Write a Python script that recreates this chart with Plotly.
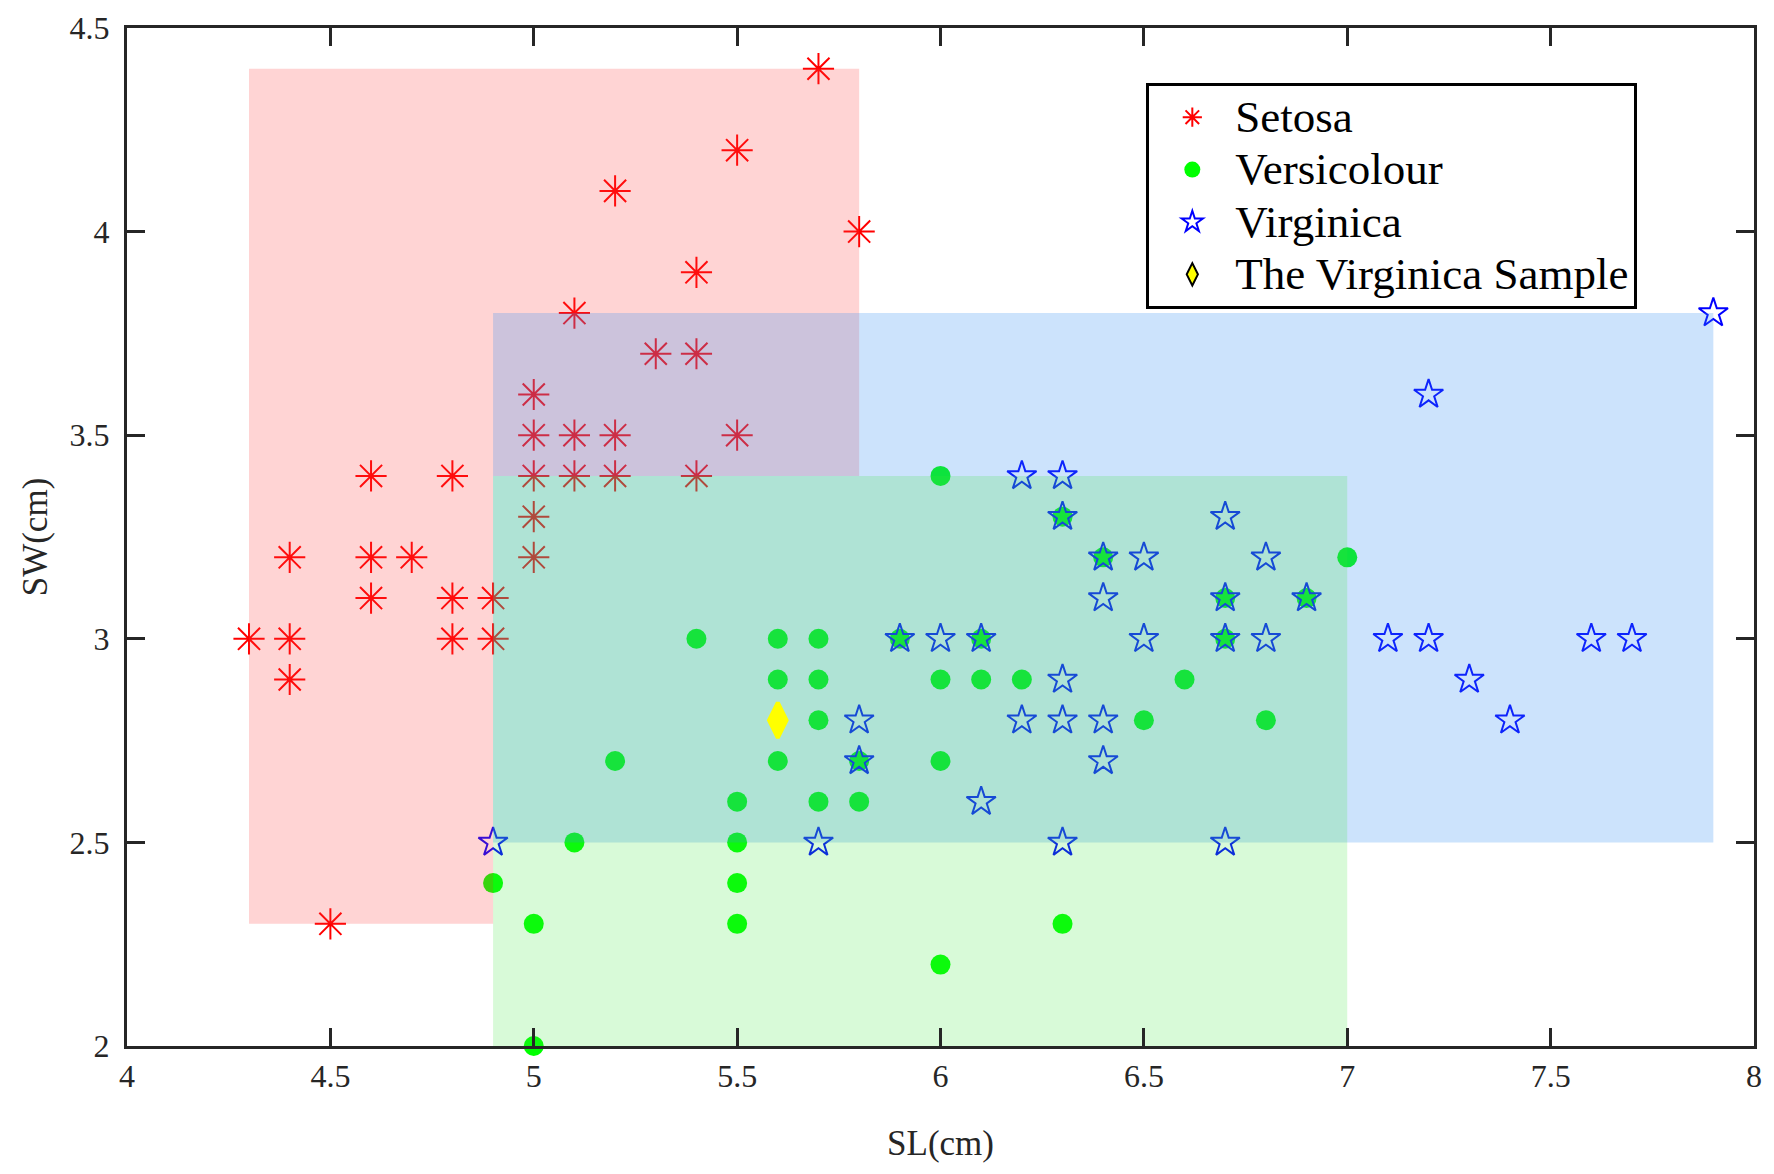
import plotly.graph_objs as go

# iris sepal length / sepal width
setosa_sl = [5.7, 5.5, 5.2, 5.8, 5.4, 5.1, 5.3, 5.4, 5.0, 5.0, 5.1, 5.2, 5.5,
             4.6, 4.8, 5.0, 5.1, 5.2, 5.4, 5.0, 4.4, 4.6, 4.7, 5.0,
             4.6, 4.8, 4.9, 4.3, 4.4, 4.8, 4.9, 4.4, 4.5]
setosa_sw = [4.4, 4.2, 4.1, 4.0, 3.9, 3.8, 3.7, 3.7, 3.6, 3.5, 3.5, 3.5, 3.5,
             3.4, 3.4, 3.4, 3.4, 3.4, 3.4, 3.3, 3.2, 3.2, 3.2, 3.2,
             3.1, 3.1, 3.1, 3.0, 3.0, 3.0, 3.0, 2.9, 2.3]

versi_sl = [6.0, 6.3, 6.4, 7.0, 6.7, 6.9,
            5.4, 5.6, 5.7, 5.9, 6.1, 6.7,
            5.6, 5.7, 6.0, 6.1, 6.2, 6.6,
            5.7, 6.5, 6.8, 5.2, 5.6, 5.8, 6.0,
            5.5, 5.7, 5.8, 5.1, 5.5, 4.9, 5.5,
            5.0, 5.5, 6.3, 6.0, 5.0]
versi_sw = [3.4, 3.3, 3.2, 3.2, 3.1, 3.1,
            3.0, 3.0, 3.0, 3.0, 3.0, 3.0,
            2.9, 2.9, 2.9, 2.9, 2.9, 2.9,
            2.8, 2.8, 2.8, 2.7, 2.7, 2.7, 2.7,
            2.6, 2.6, 2.6, 2.5, 2.5, 2.4, 2.4,
            2.3, 2.3, 2.3, 2.2, 2.0]

virg_sl = [7.9, 7.2, 6.2, 6.3, 6.3, 6.7, 6.4, 6.5, 6.8, 6.4, 6.7, 6.9,
           5.9, 6.0, 6.1, 6.5, 6.7, 6.8, 7.1, 7.2, 7.6, 7.7,
           6.3, 7.3, 5.8, 6.2, 6.3, 6.4, 7.4, 5.8, 6.4, 6.1,
           4.9, 5.7, 6.3, 6.7]
virg_sw = [3.8, 3.6, 3.4, 3.4, 3.3, 3.3, 3.2, 3.2, 3.2, 3.1, 3.1, 3.1,
           3.0, 3.0, 3.0, 3.0, 3.0, 3.0, 3.0, 3.0, 3.0, 3.0,
           2.9, 2.9, 2.8, 2.8, 2.8, 2.8, 2.8, 2.7, 2.7, 2.6,
           2.5, 2.5, 2.5, 2.5]

sample_sl = [5.6]
sample_sw = [2.8]

names = ['Setosa', 'Versicolour', 'Virginica', 'The Virginica Sample']

FONT = 'Liberation Serif'


def rng(xs, ys):
    return min(xs), max(xs), min(ys), max(ys)


def area(px, py, color):
    # shaded range of a class, drawn as a filled trace over the markers
    return go.Scatter(x=px, y=py, mode='lines', line=dict(width=0), fill='toself',
                      fillcolor=color, hoverinfo='skip', showlegend=False)


def label(n):
    # bigger text than the legend font, so rows stay as tight as the original
    return '<span style="font-size:45px">%s</span>' % n


sx0, sx1, sy0, sy1 = rng(setosa_sl, setosa_sw)
gx0, gx1, gy0, gy1 = rng(versi_sl, versi_sw)
bx0, bx1, by0, by1 = rng(virg_sl, virg_sw)

# the green box hides the red one where they overlap, so red is an L shape
red_x = [sx0, gx0, gx0, sx1, sx1, sx0, sx0]
red_y = [sy0, sy0, gy1, gy1, sy1, sy1, sy0]

data = [
    go.Scatter(x=setosa_sl, y=setosa_sw, mode='markers', name=label(names[0]),
               marker=dict(symbol='asterisk-open', size=26, color='red',
                           line=dict(color='red', width=2))),
    go.Scatter(x=versi_sl, y=versi_sw, mode='markers', name=label(names[1]), cliponaxis=False,
               marker=dict(symbol='circle', size=20, color='#00ff00', line=dict(width=0))),
    go.Scatter(x=virg_sl, y=virg_sw, mode='markers', name=label(names[2]),
               marker=dict(symbol='star-open', size=22, color='blue',
                           line=dict(color='blue', width=2))),
    area(red_x, red_y, 'rgba(255,60,60,0.22)'),
    area([bx0, bx1, bx1, bx0, bx0], [by0, by0, by1, by1, by0], 'rgba(50,145,245,0.25)'),
    area([gx0, gx1, gx1, gx0, gx0], [gy0, gy0, gy1, gy1, gy0], 'rgba(60,230,60,0.2)'),
    # sample sits on top of the shading
    go.Scatter(x=sample_sl, y=sample_sw, mode='markers', showlegend=False,
               marker=dict(symbol='diamond-tall', size=25, color='#ffff00',
                           line=dict(color='#ffff00', width=4))),
    # legend entry for the sample (black edge like the original key)
    go.Scatter(x=[None], y=[None], mode='markers', name=label(names[3]),
               marker=dict(symbol='diamond-tall', size=16, color='#ffff00',
                           line=dict(color='black', width=2))),
]

axis_style = dict(showline=True, linecolor='#262626', linewidth=3, mirror='ticks',
                  ticks='inside', ticklen=18, tickwidth=3, tickcolor='#262626',
                  showgrid=False, zeroline=False, dtick=0.5, automargin=False,
                  tickfont=dict(family=FONT, size=32, color='#262626'))

# page body has an 8px margin, so the figure is 8px smaller than the window
layout = go.Layout(
    width=1766, height=1166,
    margin=dict(l=119, r=20, t=20, b=128),
    paper_bgcolor='white', plot_bgcolor='white',
    xaxis=dict(range=[4, 8], title=dict(text='SL(cm)', standoff=38,
               font=dict(family=FONT, size=35, color='#262626')),
               ticklabelstandoff=0, **axis_style),
    yaxis=dict(range=[2, 4.5], title=dict(text='SW(cm)', standoff=12,
               font=dict(family=FONT, size=35, color='#262626')),
               ticklabelstandoff=8, **axis_style),
    legend=dict(x=0.6265, y=0.946, xanchor='left', yanchor='top',
                bgcolor='white', bordercolor='black', borderwidth=3,
                itemwidth=76, tracegroupgap=0,
                font=dict(family=FONT, size=38, color='black')),
    showlegend=True,
)

fig = go.Figure(data=data, layout=layout)
fig.write_html("out.html")
